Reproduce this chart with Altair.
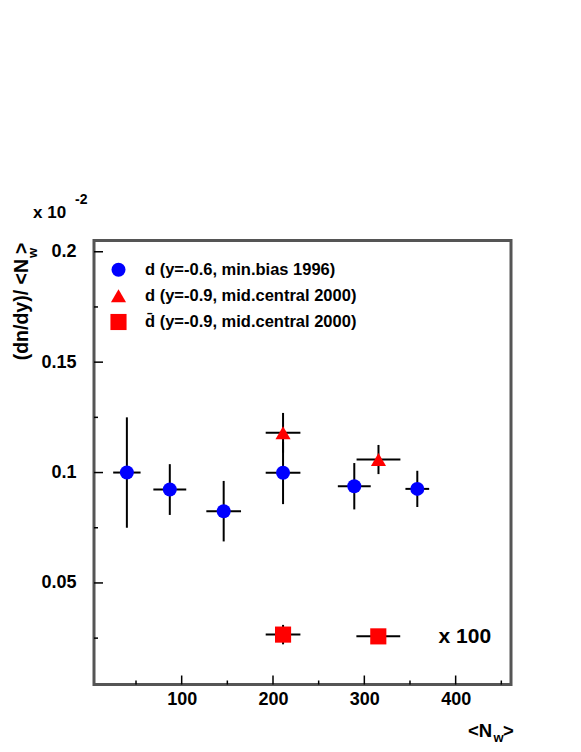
import altair as alt
import pandas as pd

# ---- data ----
d96_x = [40, 87, 146, 211, 289, 358]
d96_xerr = [15, 18, 19, 19, 18, 13]
d96_y = [0.100, 0.0923, 0.0825, 0.0999, 0.0938, 0.0926]
d96_yerr = [0.025, 0.0115, 0.0137, 0.0142, 0.0105, 0.0082]

d00_x = [211, 315.5]
d00_xerr = [19, 24]
d00_y = [0.118, 0.1059]
d00_yerr = [0.009, 0.0066]

dbar_x = [211, 315.3]
dbar_xerr = [19, 24]
dbar_y = [0.0266, 0.0258]
dbar_yerr = [0.0044, 0.0020]

series_labels = [
    "d (y=-0.6, min.bias 1996)",
    "d (y=-0.9, mid.central 2000)",
    "d\u0304 (y=-0.9, mid.central 2000)",
]
series_colors = ["#0000ff", "#ff0000", "#ff0000"]
series_shapes = ["circle", "triangle-up", "square"]
series_sizes = [196, 260, 225]

x_major = [100, 200, 300, 400]
x_minor = [50, 150, 250, 350, 450]
y_major = [0.05, 0.10, 0.15, 0.20]
y_minor = [0.025, 0.075, 0.125, 0.175]

x_domain = [4, 460.6]
y_domain = [0.004, 0.2051]

FONT = "Liberation Sans"
W, H = 417, 444

rows = []
for xs, xe, ys, ye, lab in [
    (d96_x, d96_xerr, d96_y, d96_yerr, series_labels[0]),
    (d00_x, d00_xerr, d00_y, d00_yerr, series_labels[1]),
    (dbar_x, dbar_xerr, dbar_y, dbar_yerr, series_labels[2]),
]:
    for a, b, c, d in zip(xs, xe, ys, ye):
        rows.append(dict(x=a, xlo=a - b, xhi=a + b, y=c, ylo=c - d, yhi=c + d, series=lab))
df = pd.DataFrame(rows)

xscale = alt.Scale(domain=x_domain, nice=False, zero=False)
yscale = alt.Scale(domain=y_domain, nice=False, zero=False)
xaxis = alt.Axis(values=x_major, title=None, ticks=False, domain=False, grid=False,
                 labelFont=FONT, labelFontWeight="bold", labelFontSize=18,
                 labelColor="black", labelPadding=6)
yaxis = alt.Axis(values=y_major, title=None, ticks=False, domain=False, grid=False,
                 format="~g", labelFont=FONT, labelFontWeight="bold", labelFontSize=18,
                 labelColor="black", labelPadding=18)

base = alt.Chart(df)

herr = base.mark_rule(color="black", strokeWidth=2).encode(
    x=alt.X("xlo:Q", scale=xscale, axis=xaxis),
    x2="xhi:Q",
    y=alt.Y("y:Q", scale=yscale, axis=yaxis),
)
verr = base.mark_rule(color="black", strokeWidth=2).encode(
    x=alt.X("x:Q", scale=xscale, axis=xaxis),
    y=alt.Y("ylo:Q", scale=yscale, axis=yaxis),
    y2="yhi:Q",
)
legend = alt.Legend(
    title=None, orient="none", legendX=16, legendY=21, padding=0,
    labelFont=FONT, labelFontWeight="bold", labelFontSize=16.5, labelColor="black",
    labelOffset=18, rowPadding=9, symbolStrokeWidth=0, labelLimit=0,
)
pts = base.mark_point(filled=True, opacity=1).encode(
    x=alt.X("x:Q", scale=xscale, axis=xaxis),
    y=alt.Y("y:Q", scale=yscale, axis=yaxis),
    color=alt.Color("series:N", scale=alt.Scale(domain=series_labels, range=series_colors), legend=legend),
    shape=alt.Shape("series:N", scale=alt.Scale(domain=series_labels, range=series_shapes), legend=legend),
    size=alt.Size("series:N", scale=alt.Scale(domain=series_labels, range=series_sizes), legend=legend),
)

# axis ticks drawn inside the frame
ytick_major = alt.Chart(pd.DataFrame({"v": y_major})).mark_rule(color="black", strokeWidth=1.5).encode(
    y=alt.Y("v:Q", scale=yscale, axis=yaxis), x=alt.value(0), x2=alt.value(9))
ytick_minor = alt.Chart(pd.DataFrame({"v": y_minor})).mark_rule(color="black", strokeWidth=1.5).encode(
    y=alt.Y("v:Q", scale=yscale, axis=yaxis), x=alt.value(0), x2=alt.value(4))
xtick_major = alt.Chart(pd.DataFrame({"v": x_major})).mark_rule(color="black", strokeWidth=1.5).encode(
    x=alt.X("v:Q", scale=xscale, axis=xaxis), y=alt.value(H), y2=alt.value(H - 9))
xtick_minor = alt.Chart(pd.DataFrame({"v": x_minor})).mark_rule(color="black", strokeWidth=1.5).encode(
    x=alt.X("v:Q", scale=xscale, axis=xaxis), y=alt.value(H), y2=alt.value(H - 4))

one = pd.DataFrame({"a": [0]})


def label(text, x, y, size, align="left", baseline="alphabetic", angle=0):
    return alt.Chart(one).mark_text(
        text=text, font=FONT, fontWeight="bold", fontSize=size, color="black",
        align=align, baseline=baseline, angle=angle,
    ).encode(x=alt.value(x), y=alt.value(y))


x100 = alt.Chart(one).mark_text(
    text="x 100", font=FONT, fontWeight="bold", fontSize=21, color="black",
    align="center", baseline="middle",
).encode(x=alt.datum(410, scale=xscale), y=alt.datum(0.0257, scale=yscale))

texts = [
    label("x 10", -61, -23, 17),
    label("-2", -19, -37, 14),
    label("(dn/dy)/ <N", -66, 18.5, 19.5, align="right", angle=270),
    label("w", -57, 17.5, 13, align="left", angle=270),
    label(">", -66, 13.5, 19.5, align="left", angle=270),
    label("<N", 374, 496, 18.5),
    label("w", 399.5, 501, 13),
    label(">", 409, 496, 18.5),
]

chart = alt.layer(
    ytick_major, ytick_minor, xtick_major, xtick_minor, herr, verr, pts, x100, *texts
).properties(
    width=W, height=H,
    autosize=alt.AutoSizeParams(type="none"),
    padding={"left": 86, "top": 232.5, "right": 50, "bottom": 63},
).configure_view(stroke="#555555", strokeWidth=3)

chart.save("out.html", embed_options={"renderer": "svg", "actions": False})
